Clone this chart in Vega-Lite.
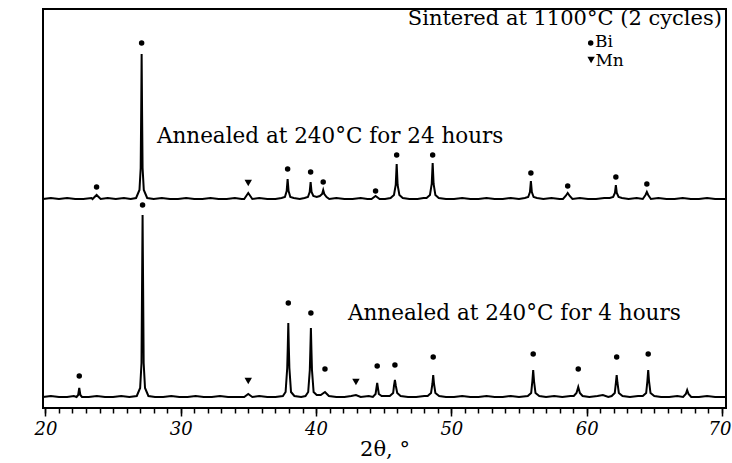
{
  "$schema": "https://vega.github.io/schema/vega-lite/v6.json",
  "width": 683,
  "height": 399,
  "autosize": "none",
  "padding": {"left": 43, "top": 9, "right": 6, "bottom": 55},
  "background": "white",
  "config": {
    "view": {"stroke": "black", "strokeWidth": 2},
    "font": "DejaVu Serif"
  },
  "datasets": {
    "xrd": [
      {"s":"a","x":19.82,"y":209},{"s":"a","x":20.4,"y":210},{"s":"a","x":21.0,"y":209},{"s":"a","x":21.6,"y":210},{"s":"a","x":22.2,"y":209},{"s":"a","x":22.8,"y":209},{"s":"a","x":23.4,"y":210},
      {"s":"a","x":23.48,"y":209},{"s":"a","x":23.78,"y":213},{"s":"a","x":24.08,"y":209},
      {"s":"a","x":24.6,"y":210},{"s":"a","x":25.2,"y":209},{"s":"a","x":25.8,"y":210},{"s":"a","x":26.3,"y":209},
      {"s":"a","x":26.7,"y":210},{"s":"a","x":26.95,"y":218},{"s":"a","x":27.04,"y":240},{"s":"a","x":27.08,"y":300},{"s":"a","x":27.11,"y":354},{"s":"a","x":27.14,"y":300},{"s":"a","x":27.18,"y":240},{"s":"a","x":27.27,"y":218},{"s":"a","x":27.52,"y":210},
      {"s":"a","x":28.0,"y":209},{"s":"a","x":28.6,"y":210},{"s":"a","x":29.2,"y":209},{"s":"a","x":29.8,"y":209},{"s":"a","x":30.4,"y":210},{"s":"a","x":31.0,"y":209},{"s":"a","x":31.6,"y":209},{"s":"a","x":32.2,"y":210},{"s":"a","x":32.8,"y":209},{"s":"a","x":33.4,"y":209},{"s":"a","x":34.0,"y":210},{"s":"a","x":34.5,"y":209},
      {"s":"a","x":34.69,"y":209},{"s":"a","x":34.99,"y":215},{"s":"a","x":35.29,"y":209},
      {"s":"a","x":35.8,"y":210},{"s":"a","x":36.4,"y":209},{"s":"a","x":37.0,"y":209},
      {"s":"a","x":37.45,"y":210},{"s":"a","x":37.7,"y":211},{"s":"a","x":37.83,"y":217},{"s":"a","x":37.9,"y":229},{"s":"a","x":37.97,"y":217},{"s":"a","x":38.1,"y":211},{"s":"a","x":38.35,"y":210},
      {"s":"a","x":38.8,"y":209},
      {"s":"a","x":39.15,"y":210},{"s":"a","x":39.4,"y":211},{"s":"a","x":39.53,"y":216},{"s":"a","x":39.6,"y":226},{"s":"a","x":39.67,"y":216},{"s":"a","x":39.8,"y":212},
      {"s":"a","x":40.05,"y":211},{"s":"a","x":40.28,"y":212},{"s":"a","x":40.45,"y":214},{"s":"a","x":40.53,"y":218},{"s":"a","x":40.61,"y":214},{"s":"a","x":40.78,"y":211},{"s":"a","x":40.98,"y":209},
      {"s":"a","x":41.5,"y":210},{"s":"a","x":42.1,"y":209},{"s":"a","x":42.7,"y":209},{"s":"a","x":43.3,"y":210},{"s":"a","x":43.8,"y":209},
      {"s":"a","x":44.1,"y":209},{"s":"a","x":44.4,"y":212},{"s":"a","x":44.7,"y":209},
      {"s":"a","x":45.1,"y":209},
      {"s":"a","x":45.51,"y":210},{"s":"a","x":45.76,"y":213},{"s":"a","x":45.89,"y":223},{"s":"a","x":45.96,"y":244},{"s":"a","x":46.03,"y":223},{"s":"a","x":46.16,"y":213},{"s":"a","x":46.41,"y":210},
      {"s":"a","x":46.9,"y":209},{"s":"a","x":47.5,"y":209},{"s":"a","x":47.95,"y":210},
      {"s":"a","x":48.17,"y":210},{"s":"a","x":48.42,"y":213},{"s":"a","x":48.55,"y":224},{"s":"a","x":48.62,"y":245},{"s":"a","x":48.69,"y":224},{"s":"a","x":48.82,"y":213},{"s":"a","x":49.07,"y":210},
      {"s":"a","x":49.6,"y":209},{"s":"a","x":50.2,"y":209},{"s":"a","x":50.8,"y":210},{"s":"a","x":51.4,"y":209},{"s":"a","x":52.0,"y":209},{"s":"a","x":52.6,"y":210},{"s":"a","x":53.2,"y":209},{"s":"a","x":53.8,"y":209},{"s":"a","x":54.4,"y":210},{"s":"a","x":55.0,"y":209},
      {"s":"a","x":55.43,"y":210},{"s":"a","x":55.68,"y":211},{"s":"a","x":55.81,"y":216},{"s":"a","x":55.88,"y":227},{"s":"a","x":55.95,"y":216},{"s":"a","x":56.08,"y":211},{"s":"a","x":56.33,"y":210},
      {"s":"a","x":56.8,"y":209},{"s":"a","x":57.4,"y":210},{"s":"a","x":58.0,"y":209},
      {"s":"a","x":58.25,"y":209},{"s":"a","x":58.45,"y":212},{"s":"a","x":58.6,"y":215},{"s":"a","x":58.75,"y":212},{"s":"a","x":58.95,"y":209},
      {"s":"a","x":59.5,"y":210},{"s":"a","x":60.1,"y":209},{"s":"a","x":60.7,"y":209},{"s":"a","x":61.3,"y":210},
      {"s":"a","x":61.71,"y":210},{"s":"a","x":61.96,"y":211},{"s":"a","x":62.09,"y":215},{"s":"a","x":62.16,"y":223},{"s":"a","x":62.23,"y":215},{"s":"a","x":62.36,"y":211},{"s":"a","x":62.61,"y":210},
      {"s":"a","x":63.1,"y":209},{"s":"a","x":63.7,"y":210},
      {"s":"a","x":64.15,"y":209},{"s":"a","x":64.35,"y":213},{"s":"a","x":64.45,"y":216},{"s":"a","x":64.55,"y":213},{"s":"a","x":64.75,"y":209},
      {"s":"a","x":65.3,"y":210},{"s":"a","x":65.9,"y":209},{"s":"a","x":66.5,"y":209},{"s":"a","x":67.1,"y":210},{"s":"a","x":67.7,"y":209},{"s":"a","x":68.3,"y":209},{"s":"a","x":68.9,"y":210},{"s":"a","x":69.5,"y":209},{"s":"a","x":70.3,"y":209},

      {"s":"b","x":19.82,"y":11},{"s":"b","x":20.4,"y":12},{"s":"b","x":21.0,"y":11},{"s":"b","x":21.6,"y":11},{"s":"b","x":22.1,"y":12},
      {"s":"b","x":22.3,"y":11},{"s":"b","x":22.42,"y":13},{"s":"b","x":22.5,"y":20},{"s":"b","x":22.58,"y":13},{"s":"b","x":22.7,"y":11},
      {"s":"b","x":23.2,"y":11},{"s":"b","x":23.8,"y":12},{"s":"b","x":24.4,"y":11},{"s":"b","x":25.0,"y":11},{"s":"b","x":25.6,"y":12},{"s":"b","x":26.2,"y":11},
      {"s":"b","x":26.75,"y":12},{"s":"b","x":27.0,"y":20},{"s":"b","x":27.1,"y":45},{"s":"b","x":27.14,"y":120},{"s":"b","x":27.18,"y":193},{"s":"b","x":27.22,"y":120},{"s":"b","x":27.26,"y":45},{"s":"b","x":27.36,"y":20},{"s":"b","x":27.61,"y":12},
      {"s":"b","x":28.1,"y":11},{"s":"b","x":28.7,"y":11},{"s":"b","x":29.3,"y":12},{"s":"b","x":29.9,"y":11},{"s":"b","x":30.5,"y":11},{"s":"b","x":31.1,"y":12},{"s":"b","x":31.7,"y":11},{"s":"b","x":32.3,"y":11},{"s":"b","x":32.9,"y":12},{"s":"b","x":33.5,"y":11},{"s":"b","x":34.1,"y":11},
      {"s":"b","x":34.69,"y":11},{"s":"b","x":34.99,"y":14},{"s":"b","x":35.29,"y":11},
      {"s":"b","x":35.8,"y":12},{"s":"b","x":36.4,"y":11},{"s":"b","x":37.0,"y":11},
      {"s":"b","x":37.55,"y":12},{"s":"b","x":37.75,"y":16},{"s":"b","x":37.87,"y":40},{"s":"b","x":37.91,"y":60},{"s":"b","x":37.95,"y":85},{"s":"b","x":37.99,"y":60},{"s":"b","x":38.03,"y":40},{"s":"b","x":38.15,"y":16},{"s":"b","x":38.4,"y":12},
      {"s":"b","x":38.9,"y":11},
      {"s":"b","x":39.22,"y":12},{"s":"b","x":39.42,"y":16},{"s":"b","x":39.54,"y":38},{"s":"b","x":39.58,"y":58},{"s":"b","x":39.62,"y":80},{"s":"b","x":39.66,"y":58},{"s":"b","x":39.7,"y":38},{"s":"b","x":39.82,"y":16},{"s":"b","x":40.05,"y":13},
      {"s":"b","x":40.35,"y":13},{"s":"b","x":40.66,"y":16},{"s":"b","x":40.95,"y":12},
      {"s":"b","x":41.5,"y":11},{"s":"b","x":42.1,"y":11},{"s":"b","x":42.6,"y":12},{"s":"b","x":42.95,"y":13},{"s":"b","x":43.3,"y":11},{"s":"b","x":43.9,"y":12},
      {"s":"b","x":44.2,"y":11},{"s":"b","x":44.4,"y":14},{"s":"b","x":44.52,"y":25},{"s":"b","x":44.64,"y":14},{"s":"b","x":44.85,"y":12},
      {"s":"b","x":45.45,"y":12},{"s":"b","x":45.7,"y":15},{"s":"b","x":45.76,"y":22},{"s":"b","x":45.83,"y":28},{"s":"b","x":45.9,"y":22},{"s":"b","x":46.0,"y":15},{"s":"b","x":46.25,"y":12},
      {"s":"b","x":46.8,"y":11},{"s":"b","x":47.4,"y":11},{"s":"b","x":48.0,"y":12},
      {"s":"b","x":48.25,"y":12},{"s":"b","x":48.5,"y":15},{"s":"b","x":48.6,"y":24},{"s":"b","x":48.66,"y":33},{"s":"b","x":48.72,"y":24},{"s":"b","x":48.82,"y":15},{"s":"b","x":49.1,"y":12},
      {"s":"b","x":49.6,"y":11},{"s":"b","x":50.2,"y":11},{"s":"b","x":50.8,"y":12},{"s":"b","x":51.4,"y":11},{"s":"b","x":52.0,"y":11},{"s":"b","x":52.6,"y":12},{"s":"b","x":53.2,"y":11},{"s":"b","x":53.8,"y":11},{"s":"b","x":54.4,"y":12},{"s":"b","x":55.0,"y":11},
      {"s":"b","x":55.65,"y":12},{"s":"b","x":55.9,"y":15},{"s":"b","x":55.99,"y":27},{"s":"b","x":56.05,"y":38},{"s":"b","x":56.11,"y":27},{"s":"b","x":56.22,"y":15},{"s":"b","x":56.5,"y":12},
      {"s":"b","x":57.0,"y":11},{"s":"b","x":57.6,"y":12},{"s":"b","x":58.2,"y":11},{"s":"b","x":58.8,"y":12},
      {"s":"b","x":59.05,"y":12},{"s":"b","x":59.25,"y":15},{"s":"b","x":59.38,"y":21},{"s":"b","x":59.5,"y":15},{"s":"b","x":59.7,"y":12},
      {"s":"b","x":60.2,"y":11},{"s":"b","x":60.8,"y":12},{"s":"b","x":61.2,"y":13},{"s":"b","x":61.6,"y":11},
      {"s":"b","x":61.85,"y":12},{"s":"b","x":62.08,"y":15},{"s":"b","x":62.16,"y":25},{"s":"b","x":62.22,"y":33},{"s":"b","x":62.28,"y":25},{"s":"b","x":62.38,"y":15},{"s":"b","x":62.65,"y":12},
      {"s":"b","x":63.2,"y":11},{"s":"b","x":63.8,"y":12},
      {"s":"b","x":64.15,"y":12},{"s":"b","x":64.4,"y":15},{"s":"b","x":64.49,"y":27},{"s":"b","x":64.55,"y":38},{"s":"b","x":64.61,"y":27},{"s":"b","x":64.72,"y":15},{"s":"b","x":65.0,"y":12},
      {"s":"b","x":65.5,"y":11},{"s":"b","x":66.1,"y":11},{"s":"b","x":66.7,"y":12},
      {"s":"b","x":67.13,"y":11},{"s":"b","x":67.33,"y":14},{"s":"b","x":67.43,"y":18},{"s":"b","x":67.53,"y":14},{"s":"b","x":67.73,"y":11},
      {"s":"b","x":68.3,"y":11},{"s":"b","x":68.9,"y":12},{"s":"b","x":69.5,"y":11},{"s":"b","x":70.3,"y":11}
    ],
    "markers": [
      {"phase":"Bi","x":23.78,"y":221},{"phase":"Bi","x":27.11,"y":365},{"phase":"Mn","x":34.99,"y":225},{"phase":"Bi","x":37.9,"y":239},{"phase":"Bi","x":39.6,"y":236},{"phase":"Bi","x":40.53,"y":226},{"phase":"Bi","x":44.4,"y":217},{"phase":"Bi","x":45.96,"y":253},{"phase":"Bi","x":48.62,"y":253},{"phase":"Bi","x":55.88,"y":235},{"phase":"Bi","x":58.6,"y":222},{"phase":"Bi","x":62.16,"y":231},{"phase":"Bi","x":64.45,"y":224},
      {"phase":"Bi","x":22.5,"y":32},{"phase":"Bi","x":27.18,"y":203},{"phase":"Mn","x":34.99,"y":27},{"phase":"Bi","x":37.95,"y":105},{"phase":"Bi","x":39.62,"y":95},{"phase":"Bi","x":40.66,"y":39},{"phase":"Mn","x":42.95,"y":26},{"phase":"Bi","x":44.52,"y":42},{"phase":"Bi","x":45.83,"y":43},{"phase":"Bi","x":48.66,"y":51},{"phase":"Bi","x":56.05,"y":54},{"phase":"Bi","x":59.38,"y":39},{"phase":"Bi","x":62.22,"y":51},{"phase":"Bi","x":64.55,"y":54},
      {"phase":"Bi","x":60.3,"y":365},{"phase":"Mn","x":60.33,"y":348}
    ],
    "bigText": [
      {"x":28.24,"y":271,"text":"Annealed at 240°C for 24 hours"},
      {"x":42.36,"y":94,"text":"Annealed at 240°C for 4 hours"}
    ],
    "legendText": [
      {"x":60.62,"y":366,"text":"Bi"},
      {"x":60.65,"y":347,"text":"Mn"}
    ],
    "rightText": [
      {"x":70.0,"y":389,"text":"Sintered at 1100°C (2 cycles)"}
    ]
  },
  "layer": [
    {
      "data": {"name": "xrd"},
      "mark": {"type": "line", "color": "black", "strokeWidth": 2},
      "encoding": {
        "x": {"field": "x", "type": "quantitative",
              "scale": {"domain": [19.82, 70.3], "nice": false, "zero": false},
              "axis": {"orient": "bottom", "values": [20,30,40,50,60,70], "tickSize": 8, "tickWidth": 1.5, "tickColor": "black",
                       "domain": false, "grid": false, "labelFont": "DejaVu Serif", "labelFontStyle": "italic", "labelFontSize": 18,
                       "labelAlign": {"expr": "datum.value == 70 ? 'right' : 'center'"},
                       "labelOffset": {"expr": "datum.value == 70 ? 9 : 0"},
                       "labelColor": "black", "labelPadding": 4, "title": "2θ, °", "titleFont": "DejaVu Serif", "titleFontSize": 21,
                       "titleFontWeight": "normal", "titleColor": "black", "titlePadding": 0}},
        "y": {"field": "y", "type": "quantitative",
              "scale": {"domain": [0, 399], "nice": false, "zero": false},
              "axis": {"orient": "left", "ticks": false, "labels": false, "domain": false, "grid": false,
                       "title": "Intensity, a.u.", "titleFont": "DejaVu Serif", "titleFontSize": 22, "titleFontWeight": "normal",
                       "titleColor": "black", "titlePadding": 9}},
        "detail": {"field": "s"}
      }
    },
    {
      "data": {"name": "markers"},
      "mark": {"type": "point", "filled": true, "color": "black", "opacity": 1},
      "encoding": {
        "x": {"field": "x", "type": "quantitative",
              "scale": {"domain": [19.82, 70.3], "nice": false, "zero": false},
              "axis": {"orient": "bottom", "values": [20,21,22,23,24,25,26,27,28,29,30,31,32,33,34,35,36,37,38,39,40,41,42,43,44,45,46,47,48,49,50,51,52,53,54,55,56,57,58,59,60,61,62,63,64,65,66,67,68,69,70],
                       "tickSize": 5, "tickWidth": 1.5, "tickColor": "black", "labels": false, "domain": false, "grid": false, "title": null}},
        "y": {"field": "y", "type": "quantitative", "scale": {"domain": [0, 399], "nice": false, "zero": false}, "axis": null},
        "shape": {"field": "phase", "type": "nominal", "scale": {"domain": ["Bi","Mn"], "range": ["circle","triangle-down"]}, "legend": null},
        "size": {"field": "phase", "type": "nominal", "scale": {"domain": ["Bi","Mn"], "range": [30, 55]}, "legend": null}
      }
    },
    {
      "data": {"name": "bigText"},
      "mark": {"type": "text", "align": "left", "baseline": "middle", "font": "DejaVu Serif", "fontSize": 21.5, "color": "black"},
      "encoding": {
        "x": {"field": "x", "type": "quantitative", "scale": {"domain": [19.82, 70.3], "nice": false, "zero": false}, "axis": null},
        "y": {"field": "y", "type": "quantitative", "scale": {"domain": [0, 399], "nice": false, "zero": false}, "axis": null},
        "text": {"field": "text"}
      }
    },
    {
      "data": {"name": "legendText"},
      "mark": {"type": "text", "align": "left", "baseline": "middle", "font": "DejaVu Serif", "fontSize": 17, "color": "black"},
      "encoding": {
        "x": {"field": "x", "type": "quantitative", "scale": {"domain": [19.82, 70.3], "nice": false, "zero": false}, "axis": null},
        "y": {"field": "y", "type": "quantitative", "scale": {"domain": [0, 399], "nice": false, "zero": false}, "axis": null},
        "text": {"field": "text"}
      }
    },
    {
      "data": {"name": "rightText"},
      "mark": {"type": "text", "align": "right", "baseline": "middle", "font": "DejaVu Serif", "fontSize": 21, "color": "black"},
      "encoding": {
        "x": {"field": "x", "type": "quantitative", "scale": {"domain": [19.82, 70.3], "nice": false, "zero": false}, "axis": null},
        "y": {"field": "y", "type": "quantitative", "scale": {"domain": [0, 399], "nice": false, "zero": false}, "axis": null},
        "text": {"field": "text"}
      }
    }
  ],
  "resolve": {"axis": {"x": "independent"}}
}
